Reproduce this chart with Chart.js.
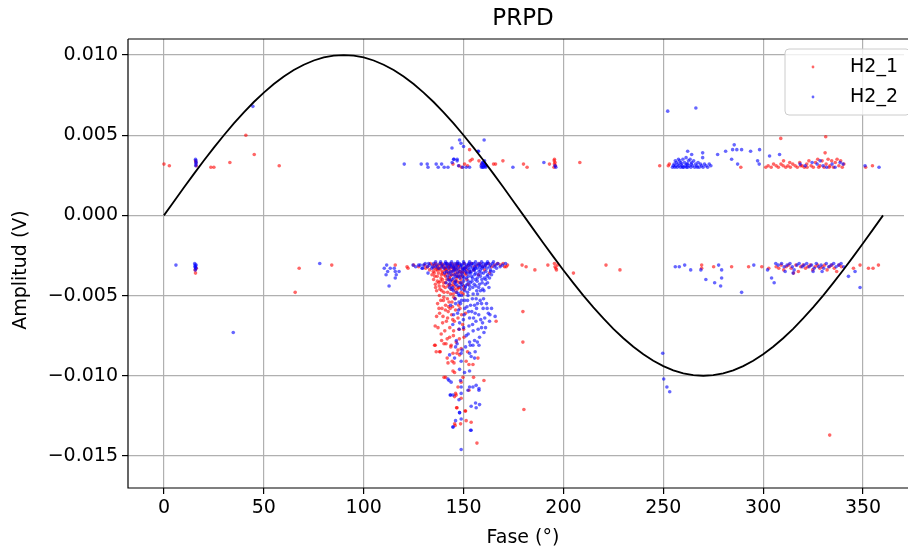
<!DOCTYPE html>
<html>
<head>
<meta charset="utf-8">
<script src="https://cdn.jsdelivr.net/npm/chart.js@4/dist/chart.umd.min.js"></script>
<style>
html,body{margin:0;padding:0;background:#fff;}
#c{display:block;}
</style>
</head>
<body>
<canvas id="c" width="908" height="548"></canvas>
<script>
// ---------- DATA ----------
const chartTitle = "PRPD";
const xAxisTitle = "Fase (°)";
const yAxisTitle = "Amplitud (V)";
const seriesNames = ["H2_1", "H2_2"];
const xTickValues = [0, 50, 100, 150, 200, 250, 300, 350];
const yTickValues = [-0.015, -0.010, -0.005, 0, 0.005, 0.010];

const sinePhase = [0,5,10,15,20,25,30,35,40,45,50,55,60,65,70,75,80,85,90,95,100,105,110,115,120,125,130,135,140,145,150,155,160,165,170,175,180,
185,190,195,200,205,210,215,220,225,230,235,240,245,250,255,260,265,270,275,280,285,290,295,300,305,310,315,320,325,330,335,340,345,350,355,360];
const sineAmp = [0,0.000872,0.001736,0.002588,0.003420,0.004226,0.005,0.005736,0.006428,0.007071,0.007660,0.008192,0.008660,0.009063,0.009397,0.009659,0.009848,0.009962,0.01,
0.009962,0.009848,0.009659,0.009397,0.009063,0.008660,0.008192,0.007660,0.007071,0.006428,0.005736,0.005,0.004226,0.003420,0.002588,0.001736,0.000872,0,
-0.000872,-0.001736,-0.002588,-0.003420,-0.004226,-0.005,-0.005736,-0.006428,-0.007071,-0.007660,-0.008192,-0.008660,-0.009063,-0.009397,-0.009659,-0.009848,-0.009962,-0.01,
-0.009962,-0.009848,-0.009659,-0.009397,-0.009063,-0.008660,-0.008192,-0.007660,-0.007071,-0.006428,-0.005736,-0.005,-0.004226,-0.003420,-0.002588,-0.001736,-0.000872,0];

// H2_1 : [phase (deg), amplitude (V)]
const h21Points = [
[0.0,0.0032],[2.7,0.0031],[15.8,0.0034],[16.0,0.0033],[16.2,0.0031],[23.5,0.0030],[25.0,0.0030],[33.0,0.0033],[41.0,0.0050],[45.2,0.0038],[57.7,0.0031],
[15.6,-0.0034],[15.8,-0.0036],[16.2,-0.0033],[67.7,-0.0033],[65.7,-0.0048],[84.0,-0.0031],[115.8,-0.0031],[121.7,-0.0032],[122.2,-0.0033],
[144.7,0.0032],[147.7,0.0031],[149.0,0.0030],[150.5,0.0032],[152.0,0.0031],[153.0,0.0041],[154.3,0.0035],[153.3,0.0034],[157.7,0.0034],[159.0,0.0032],[161.0,0.0031],[165.0,0.0032],[166.0,0.0032],[169.7,0.0034],[180.0,0.0032],[181.8,0.0030],[193.0,0.0032],[195.5,0.0035],[195.4,0.0034],[195.8,0.0033],[195.5,0.0032],[196.0,0.0031],[195.3,0.0030],[208.2,0.0033],
[171.3,-0.0032],[179.3,-0.0031],[181.3,-0.0032],[185.7,-0.0034],[192.2,-0.0031],[195.5,-0.0030],[195.8,-0.0032],[196.5,-0.0034],[196.2,-0.0033],[197.0,-0.0031],[205.0,-0.0036],[179.7,-0.0060],[179.7,-0.0079],[180.2,-0.0121],[221.3,-0.0031],[228.3,-0.0034],
[130.5,-0.0031],[132.0,-0.0032],[133.4,-0.0030],[134.6,-0.0031],[135.2,-0.0033],[136.1,-0.0030],[136.8,-0.0032],[137.5,-0.0031],[138.3,-0.0033],[138.9,-0.0030],[139.6,-0.0032],[140.2,-0.0031],[140.9,-0.0033],[141.5,-0.0030],[142.1,-0.0032],[142.8,-0.0031],[143.4,-0.0033],[144.0,-0.0030],[144.7,-0.0032],[145.3,-0.0031],[146.0,-0.0033],[146.6,-0.0030],[147.4,-0.0032],[148.1,-0.0031],[149.2,-0.0033],[150.3,-0.0030],[151.5,-0.0032],[152.6,-0.0031],[154.0,-0.0030],[155.3,-0.0032],[156.8,-0.0031],[158.2,-0.0030],[159.5,-0.0032],[161.0,-0.0031],[162.6,-0.0030],[164.1,-0.0032],[165.5,-0.0031],[167.0,-0.0030],[168.4,-0.0031],[169.8,-0.0030],
[131.0,-0.0033],[133.0,-0.0034],[135.5,-0.0031],[137.0,-0.0034],[139.0,-0.0031],[141.0,-0.0034],[143.0,-0.0032],[145.0,-0.0034],[147.0,-0.0031],[127.5,-0.0032],[125.0,-0.0031],[170.5,-0.0032],[172.0,-0.0031],
[134.8,-0.0035],[135.6,-0.0038],[136.2,-0.0034],[136.9,-0.0041],[137.4,-0.0036],[137.8,-0.0044],[138.3,-0.0034],[138.7,-0.0039],[139.1,-0.0047],[139.6,-0.0035],[140.0,-0.0042],[140.4,-0.0037],[140.8,-0.0045],[141.2,-0.0034],[141.6,-0.0040],[142.0,-0.0048],[142.4,-0.0036],[142.8,-0.0043],[143.2,-0.0038],[143.6,-0.0046],[144.0,-0.0035],[144.4,-0.0041],[144.8,-0.0049],[145.2,-0.0037],[145.6,-0.0044],[146.0,-0.0034],[146.4,-0.0039],[146.8,-0.0046],[147.3,-0.0036],[147.8,-0.0042],[148.3,-0.0035],[148.8,-0.0048],[149.3,-0.0038],[150.0,-0.0044],[150.8,-0.0036],[151.6,-0.0040],[153.0,-0.0035],[155.0,-0.0034],[157.5,-0.0037],[160.5,-0.0034],[163.0,-0.0036],
[134.2,-0.0037],[135.0,-0.0040],[135.9,-0.0043],[136.5,-0.0047],[137.1,-0.0033],[137.9,-0.0050],[138.5,-0.0041],[139.3,-0.0036],[139.8,-0.0044],[140.6,-0.0033],[141.0,-0.0038],[141.9,-0.0052],[142.6,-0.0034],[143.0,-0.0040],[143.9,-0.0044],[144.2,-0.0054],[145.0,-0.0033],[145.9,-0.0041],[146.2,-0.0048],[147.0,-0.0038],[147.6,-0.0034],[148.0,-0.0045],[148.6,-0.0040],[149.0,-0.0036],[149.8,-0.0049],[150.5,-0.0033],[151.2,-0.0037],[152.3,-0.0043],
[135.3,-0.0036],[136.0,-0.0045],[136.8,-0.0038],[137.6,-0.0042],[138.2,-0.0046],[138.9,-0.0037],[139.5,-0.0040],[140.2,-0.0048],[140.9,-0.0042],[141.5,-0.0036],[142.2,-0.0044],[142.9,-0.0039],[143.5,-0.0049],[144.1,-0.0037],[144.7,-0.0043],[145.4,-0.0046],[146.1,-0.0036],[146.7,-0.0041],[147.4,-0.0045],[148.1,-0.0038],[148.9,-0.0042],[149.6,-0.0035],[150.4,-0.0046],[151.4,-0.0034],[139.9,-0.0053],[142.5,-0.0057],[145.1,-0.0051],[137.7,-0.0058],
[137.0,-0.0055],[138.0,-0.0061],[139.5,-0.0067],[140.9,-0.0059],[142.0,-0.0064],[143.3,-0.0058],[144.6,-0.0065],[146.0,-0.0059],[147.5,-0.0056],[149.0,-0.0062],[136.5,-0.0063],[138.8,-0.0074],[141.2,-0.0080],[143.0,-0.0076],[145.0,-0.0072],[147.9,-0.0077],[150.0,-0.0071],[139.0,-0.0078],[137.2,-0.0070],
[135.8,-0.0069],[135.5,-0.0081],[138.0,-0.0085],[138.6,-0.0053],[139.2,-0.0058],[139.7,-0.0063],[140.1,-0.0051],[140.6,-0.0072],[141.0,-0.0056],[141.4,-0.0066],[141.8,-0.0077],[142.3,-0.0060],[142.7,-0.0054],[143.1,-0.0070],[143.6,-0.0082],[144.0,-0.0062],[144.5,-0.0057],[144.9,-0.0075],[145.4,-0.0066],[145.8,-0.0052],[146.3,-0.0079],[146.7,-0.0086],[147.2,-0.0064],[147.7,-0.0071],[148.2,-0.0058],[148.8,-0.0083],[149.5,-0.0068],[150.2,-0.0076],[151.0,-0.0061],[152.0,-0.0085],[166.3,-0.0066],
[135.8,-0.0081],[140.2,-0.0080],[136.3,-0.0085],[138.3,-0.0085],[143.8,-0.0081],[144.7,-0.0086],[147.2,-0.0084],[141.8,-0.0089],[144.3,-0.0091],[142.2,-0.0092],[145.2,-0.0092],[148.0,-0.0087],[151.3,-0.0091],[152.7,-0.0093],[154.7,-0.0093],[157.2,-0.0089],[144.7,-0.0097],[145.5,-0.0098],[141.0,-0.0101],[149.7,-0.0101],[148.8,-0.0104],[155.0,-0.0101],[160.2,-0.0103],[147.2,-0.0107],[146.0,-0.0111],[146.3,-0.0112],[145.5,-0.0113],[146.7,-0.0120],[151.0,-0.0122],[151.3,-0.0128],[148.5,-0.0130],[145.5,-0.0130],[156.7,-0.0142],[152.7,-0.0109],[153.8,-0.0129],[150.8,-0.0122],[145.8,-0.0131],[146.5,-0.0120],[148.8,-0.0114],[140.2,-0.0101],
[248.2,0.0031],[253.0,0.0032],[252.5,0.0031],[288.8,0.0030],[301.3,0.0030],[308.8,0.0048],[331.3,0.0049],[331.0,0.0039],[310.2,0.0034],[313.3,0.0033],[351.3,0.0030],[354.7,0.0031],
[302.5,0.0031],[304.0,0.0030],[305.2,0.0032],[306.5,0.0031],[307.6,0.0030],[308.9,0.0032],[310.0,0.0031],[311.3,0.0030],[312.4,0.0031],[313.6,0.0030],[314.8,0.0032],[316.0,0.0031],[317.1,0.0030],[318.3,0.0033],[319.5,0.0031],[320.6,0.0030],[321.8,0.0032],[322.9,0.0034],[324.0,0.0031],[325.1,0.0030],[326.2,0.0033],[327.3,0.0035],[328.4,0.0031],[329.5,0.0034],[330.5,0.0030],[331.5,0.0032],[332.5,0.0035],[333.4,0.0031],[334.3,0.0034],[335.2,0.0030],[336.1,0.0033],[337.0,0.0035],[337.9,0.0031],[338.8,0.0034],[339.6,0.0030],[340.4,0.0032],[322.0,0.0030],[318.8,0.0031],[327.8,0.0030],[333.0,0.0030],
[269.2,-0.0031],[269.2,-0.0033],[275.2,-0.0032],[284.2,-0.0032],[292.7,-0.0032],[299.3,-0.0032],[302.8,-0.0033],[345.2,-0.0033],[348.5,-0.0031],[352.7,-0.0033],[355.0,-0.0033],[357.7,-0.0031],[333.3,-0.0137],
[306.5,-0.0032],[307.8,-0.0033],[309.0,-0.0031],[310.3,-0.0034],[311.5,-0.0032],[312.8,-0.0031],[314.0,-0.0033],[315.2,-0.0036],[316.4,-0.0031],[317.6,-0.0035],[318.8,-0.0032],[320.0,-0.0031],[321.2,-0.0033],[322.4,-0.0032],[323.6,-0.0031],[324.8,-0.0034],[326.0,-0.0032],[327.2,-0.0031],[328.4,-0.0033],[329.6,-0.0032],[330.8,-0.0031],[332.0,-0.0034],[333.2,-0.0032],[334.4,-0.0031],[335.6,-0.0033],[336.8,-0.0035],[338.0,-0.0031],[339.2,-0.0032]
];

// H2_2 : [phase (deg), amplitude (V)]
const h22Points = [
[44.5,0.0068],[15.8,0.0035],[16.0,0.0034],[16.1,0.0033],[16.0,0.0032],[15.9,0.0031],
[6.0,-0.0031],[15.4,-0.0030],[15.6,-0.0031],[15.8,-0.0032],[16.0,-0.0033],[15.7,-0.0034],[16.1,-0.0031],[15.5,-0.0032],[78.0,-0.0030],[34.7,-0.0073],
[110.3,-0.0033],[111.5,-0.0031],[112.0,-0.0035],[111.2,-0.0037],[113.3,-0.0033],[115.3,-0.0033],[115.8,-0.0035],[117.7,-0.0035],[116.3,-0.0037],[115.8,-0.0039],[112.7,-0.0044],[124.7,-0.0031],[127.5,-0.0031],[129.2,-0.0033],[132.2,-0.0036],[126.0,-0.0032],
[120.3,0.0032],[128.8,0.0032],[131.8,0.0032],[132.2,0.0030],[136.3,0.0032],[137.3,0.0030],[139.0,0.0032],[140.3,0.0030],[142.2,0.0030],[144.3,0.0033],[145.0,0.0035],[146.8,0.0035],[144.2,0.0042],[148.0,0.0047],[148.7,0.0045],[150.0,0.0043],[160.3,0.0047],[157.5,0.0040],[157.2,0.0040],[145.2,0.0035],[146.8,0.0034],[151.3,0.0030],[153.0,0.0030],[149.5,0.0030],[147.5,0.0031],
[158.8,0.0031],[159.2,0.0032],[159.6,0.0030],[159.9,0.0033],[160.2,0.0031],[160.5,0.0034],[160.8,0.0032],[161.1,0.0030],[159.5,0.0033],[160.0,0.0030],[160.6,0.0031],[161.3,0.0031],[159.0,0.0030],[160.3,0.0032],
[174.7,0.0030],[190.2,0.0033],[195.8,0.0031],[196.2,0.0030],
[128.3,-0.0031],[129.5,-0.0033],[130.8,-0.0030],[131.9,-0.0032],[133.0,-0.0031],[134.1,-0.0033],[135.0,-0.0030],[135.9,-0.0032],[136.7,-0.0031],[137.5,-0.0033],[138.2,-0.0030],[138.9,-0.0032],[139.5,-0.0031],[140.1,-0.0033],[140.7,-0.0030],[141.3,-0.0032],[141.9,-0.0031],[142.5,-0.0033],[143.1,-0.0030],[143.7,-0.0032],[144.3,-0.0031],[144.9,-0.0033],[145.5,-0.0030],[146.1,-0.0032],[146.7,-0.0031],[147.3,-0.0033],[147.9,-0.0030],[148.5,-0.0032],[149.1,-0.0031],[149.7,-0.0033],[150.3,-0.0030],[150.9,-0.0032],[151.5,-0.0031],[152.1,-0.0033],[152.7,-0.0030],[153.3,-0.0032],[153.9,-0.0031],[154.5,-0.0033],[155.1,-0.0030],[155.7,-0.0032],[156.3,-0.0031],[156.9,-0.0033],[157.5,-0.0030],[158.1,-0.0032],[158.7,-0.0031],[159.3,-0.0033],[159.9,-0.0030],[160.5,-0.0032],[161.1,-0.0031],[161.7,-0.0033],[162.3,-0.0030],[162.9,-0.0032],[163.6,-0.0031],[164.4,-0.0030],[165.3,-0.0032],[166.2,-0.0031],[167.2,-0.0030],[168.3,-0.0032],
[141.6,-0.0030],[143.4,-0.0031],[145.2,-0.0032],[147.0,-0.0030],[148.8,-0.0031],[150.6,-0.0033],[152.4,-0.0031],[154.2,-0.0030],[156.0,-0.0033],[157.8,-0.0031],[159.6,-0.0032],[161.4,-0.0030],[146.4,-0.0034],[149.4,-0.0034],[152.9,-0.0034],[155.4,-0.0034],[158.4,-0.0034],
[130.0,-0.0031],[132.5,-0.0030],[134.5,-0.0032],[136.0,-0.0029],[138.5,-0.0029],[141.0,-0.0029],[144.0,-0.0029],[147.0,-0.0029],[150.0,-0.0029],[153.0,-0.0029],[156.0,-0.0029],[159.0,-0.0029],[162.0,-0.0029],[165.0,-0.0029],[169.5,-0.0031],[171.0,-0.0030],[163.5,-0.0034],[166.5,-0.0033],
[140.5,-0.0036],[141.3,-0.0042],[142.0,-0.0038],[142.9,-0.0045],[143.5,-0.0035],[144.2,-0.0040],[144.9,-0.0047],[145.6,-0.0037],[146.2,-0.0043],[146.9,-0.0036],[147.5,-0.0049],[148.1,-0.0039],[148.7,-0.0044],[149.4,-0.0036],[150.0,-0.0041],[150.6,-0.0047],[151.2,-0.0035],[151.8,-0.0043],[152.4,-0.0038],[153.0,-0.0046],[153.6,-0.0036],[154.2,-0.0041],[154.8,-0.0049],[155.5,-0.0037],[156.2,-0.0044],[156.9,-0.0039],[157.7,-0.0035],[158.4,-0.0047],[159.2,-0.0040],[160.0,-0.0036],[160.9,-0.0043],[161.8,-0.0038],[162.7,-0.0045],[163.5,-0.0035],[149.0,-0.0050],[152.0,-0.0048],[157.0,-0.0049],[145.0,-0.0039],
[141.5,-0.0035],[142.3,-0.0040],[143.0,-0.0043],[143.8,-0.0037],[144.5,-0.0045],[145.3,-0.0034],[146.0,-0.0041],[146.6,-0.0048],[147.3,-0.0038],[148.0,-0.0035],[148.4,-0.0042],[149.0,-0.0046],[149.7,-0.0038],[150.3,-0.0034],[151.0,-0.0044],[151.5,-0.0039],[152.2,-0.0050],[152.8,-0.0036],[153.4,-0.0042],[154.0,-0.0038],[154.6,-0.0045],[155.2,-0.0034],[155.9,-0.0040],[156.6,-0.0047],[157.3,-0.0037],[158.0,-0.0043],[158.8,-0.0036],[159.6,-0.0046],[160.4,-0.0039],[161.2,-0.0035],[162.0,-0.0042],[163.0,-0.0039],[164.0,-0.0037],[165.0,-0.0035],
[142.7,-0.0036],[143.3,-0.0041],[144.0,-0.0046],[144.8,-0.0035],[145.6,-0.0042],[146.3,-0.0038],[147.1,-0.0044],[147.8,-0.0050],[148.6,-0.0037],[149.3,-0.0043],[150.1,-0.0039],[150.8,-0.0045],[151.6,-0.0036],[152.3,-0.0041],[153.1,-0.0044],[153.8,-0.0035],[154.5,-0.0039],[155.3,-0.0043],[156.0,-0.0036],[156.8,-0.0041],[157.6,-0.0045],[158.4,-0.0038],[159.3,-0.0042],[160.2,-0.0047],[161.1,-0.0040],[162.2,-0.0037],[150.5,-0.0053],[153.5,-0.0056],[156.3,-0.0052],[159.0,-0.0055],[147.7,-0.0054],[155.0,-0.0064],
[146.0,-0.0055],[147.5,-0.0059],[149.0,-0.0053],[150.3,-0.0062],[151.7,-0.0057],[153.0,-0.0064],[154.4,-0.0052],[155.8,-0.0061],[157.0,-0.0055],[158.6,-0.0065],[160.0,-0.0052],[161.8,-0.0058],[163.2,-0.0062],[148.0,-0.0067],[150.0,-0.0070],[152.3,-0.0074],[154.5,-0.0068],[157.3,-0.0071],[159.5,-0.0067],[161.0,-0.0070],[145.0,-0.0062],[152.5,-0.0060],[156.5,-0.0058],
[165.8,-0.0063],[163.0,-0.0066],[160.2,-0.0073],[143.5,-0.0056],[144.6,-0.0068],[145.7,-0.0052],[146.4,-0.0078],[147.0,-0.0061],[147.8,-0.0071],[148.5,-0.0055],[149.2,-0.0084],[149.9,-0.0065],[150.6,-0.0058],[151.3,-0.0075],[152.0,-0.0053],[152.7,-0.0069],[153.4,-0.0081],[154.1,-0.0060],[154.8,-0.0072],[155.5,-0.0056],[156.2,-0.0066],[156.9,-0.0079],[157.6,-0.0062],[158.3,-0.0053],[159.0,-0.0070],[159.8,-0.0058],[160.6,-0.0064],[161.5,-0.0055],[162.4,-0.0061],[164.0,-0.0058],[153.0,-0.0086],[151.0,-0.0082],[155.8,-0.0085],[158.0,-0.0076],
[153.0,-0.0079],[155.5,-0.0078],[157.7,-0.0081],[154.7,-0.0081],[146.8,-0.0080],[146.0,-0.0082],[148.8,-0.0086],[153.8,-0.0088],[155.5,-0.0089],[143.0,-0.0087],[145.5,-0.0089],[148.8,-0.0091],[153.0,-0.0097],[150.5,-0.0098],[148.0,-0.0096],[143.8,-0.0104],[142.7,-0.0103],[148.5,-0.0103],[153.0,-0.0107],[152.2,-0.0109],[154.7,-0.0107],[156.3,-0.0106],[157.7,-0.0109],[147.7,-0.0115],[148.8,-0.0111],[144.7,-0.0112],[143.3,-0.0112],[153.8,-0.0119],[156.0,-0.0117],[156.3,-0.0120],[148.0,-0.0123],[146.0,-0.0128],[144.7,-0.0132],[148.8,-0.0127],[153.8,-0.0134],[148.8,-0.0146],[157.7,-0.0108],[158.0,-0.0118],[153.5,-0.0134],[144.7,-0.0132],[143.5,-0.0112],[148.8,-0.0107],[142.2,-0.0102],[148.0,-0.0123],
[252.2,0.0065],[266.3,0.0067],
[254.6,0.0030],[255.0,0.0031],[255.4,0.0032],[255.8,0.0030],[256.2,0.0031],[256.6,0.0033],[257.0,0.0030],[257.4,0.0032],[257.8,0.0031],[258.2,0.0034],[258.6,0.0030],[259.0,0.0032],[259.4,0.0031],[259.8,0.0035],[260.2,0.0030],[260.6,0.0033],[261.0,0.0031],[261.4,0.0036],[261.8,0.0032],[262.2,0.0030],[262.6,0.0034],[263.0,0.0031],[263.4,0.0035],[263.8,0.0030],[264.2,0.0033],[264.7,0.0031],[265.2,0.0034],[265.7,0.0030],[266.2,0.0032],[266.8,0.0031],[267.4,0.0033],[268.0,0.0030],[268.6,0.0032],[269.2,0.0031],[269.9,0.0030],[270.6,0.0032],[271.4,0.0031],[272.2,0.0030],[273.0,0.0032],[273.8,0.0031],[256.0,0.0034],[257.6,0.0035],[259.7,0.0030],[262.0,0.0032],[264.0,0.0032],[267.0,0.0030],[258.8,0.0033],[261.6,0.0030],
[262.2,0.0040],[264.2,0.0038],[269.7,0.0039],[269.7,0.0036],[277.2,0.0038],[281.2,0.0040],[285.5,0.0044],[284.7,0.0041],[286.8,0.0041],[289.2,0.0041],[284.2,0.0035],[287.2,0.0032],[293.7,0.0040],[298.2,0.0041],[297.2,0.0034],[298.0,0.0032],[303.2,0.0037],[308.2,0.0038],[351.0,0.0031],[358.0,0.0030],
[318.5,0.0032],[321.0,0.0031],[324.5,0.0033],[327.0,0.0032],[328.5,0.0034],[330.0,0.0031],[334.5,0.0032],[336.0,0.0030],[338.5,0.0033],[340.0,0.0032],[331.8,0.0030],
[256.0,-0.0032],[258.0,-0.0032],[260.7,-0.0031],[263.7,-0.0034],[268.8,-0.0034],[277.7,-0.0031],[279.2,-0.0034],[271.3,-0.0040],[275.7,-0.0042],[278.7,-0.0044],[279.2,-0.0039],[289.2,-0.0048],[295.3,-0.0031],[302.2,-0.0034],[304.2,-0.0039],[305.5,-0.0042],[342.7,-0.0038],[346.0,-0.0035],[348.5,-0.0045],[249.7,-0.0086],[250.2,-0.0102],[251.8,-0.0107],[253.2,-0.0110],
[306.3,-0.0030],[307.5,-0.0031],[309.2,-0.0030],[310.5,-0.0032],[312.0,-0.0031],[313.4,-0.0030],[314.6,-0.0032],[315.5,-0.0034],[316.9,-0.0031],[318.0,-0.0030],[319.5,-0.0032],[320.5,-0.0031],[321.8,-0.0030],[323.0,-0.0032],[324.2,-0.0031],[325.5,-0.0033],[326.6,-0.0030],[327.8,-0.0032],[329.0,-0.0031],[330.3,-0.0033],[331.6,-0.0030],[332.8,-0.0032],[334.0,-0.0031],[335.3,-0.0030],[336.5,-0.0032],[337.8,-0.0031],[339.0,-0.0030],[340.3,-0.0032],[311.0,-0.0035],[315.0,-0.0036],[325.0,-0.0035],[329.5,-0.0035]
];

// ---------- STYLE ----------
const FONT = "'DejaVu Sans', sans-serif";
const redFill = "rgba(255,0,0,0.6)";
const blueFill = "rgba(0,0,255,0.6)";

const toXY = arr => arr.map(p => ({x: p[0], y: p[1]}));
const sineData = sinePhase.map((p, i) => ({x: p, y: sineAmp[i]}));

const fmtY = v => {
  const s = Math.abs(v).toFixed(3);
  return (v < -1e-12 ? "\u2212" : "") + s;
};

const decorPlugin = {
  id: "decor",
  afterDraw(chart) {
    const ctx = chart.ctx;
    const a = chart.chartArea;
    ctx.save();
    ctx.strokeStyle = "#000";
    ctx.lineWidth = 1.2;
    ctx.beginPath();
    ctx.moveTo(a.left, a.top); ctx.lineTo(chart.width, a.top);
    ctx.moveTo(a.left, a.top); ctx.lineTo(a.left, a.bottom);
    ctx.lineTo(chart.width, a.bottom);
    ctx.stroke();
    ctx.fillStyle = "#000";
    ctx.textAlign = "center";
    ctx.textBaseline = "middle";
    ctx.font = "23px " + FONT;
    ctx.fillText(chartTitle, 523, 19);
    ctx.font = "19px " + FONT;
    ctx.fillText(xAxisTitle, 523, 538);
    ctx.translate(21, 270);
    ctx.rotate(-Math.PI / 2);
    ctx.fillText(yAxisTitle, 0, 0);
    ctx.restore();

    ctx.save();
    const lx = 785, ly = 49, lw = 125, lh = 66, r = 4;
    ctx.beginPath();
    ctx.moveTo(lx + r, ly);
    ctx.lineTo(lx + lw - r, ly);
    ctx.quadraticCurveTo(lx + lw, ly, lx + lw, ly + r);
    ctx.lineTo(lx + lw, ly + lh - r);
    ctx.quadraticCurveTo(lx + lw, ly + lh, lx + lw - r, ly + lh);
    ctx.lineTo(lx + r, ly + lh);
    ctx.quadraticCurveTo(lx, ly + lh, lx, ly + lh - r);
    ctx.lineTo(lx, ly + r);
    ctx.quadraticCurveTo(lx, ly, lx + r, ly);
    ctx.closePath();
    ctx.fillStyle = "rgba(255,255,255,0.8)";
    ctx.fill();
    ctx.strokeStyle = "#cccccc";
    ctx.lineWidth = 1;
    ctx.stroke();
    const cols = [redFill, blueFill];
    const ys = [67, 97];
    ctx.font = "19px " + FONT;
    ctx.textAlign = "left";
    ctx.textBaseline = "middle";
    for (let i = 0; i < 2; i++) {
      ctx.fillStyle = cols[i];
      ctx.beginPath();
      ctx.arc(813, ys[i], 1.4, 0, Math.PI * 2);
      ctx.fill();
      ctx.fillStyle = "#000";
      ctx.fillText(seriesNames[i], 850, ys[i]);
    }
    ctx.restore();
  }
};

new Chart(document.getElementById("c"), {
  type: "scatter",
  data: {
    datasets: [
      {
        label: "sine",
        type: "line",
        data: sineData,
        borderColor: "#000",
        borderWidth: 1.8,
        pointRadius: 0,
        fill: false,
        tension: 0,
        order: 1
      },
      {
        label: seriesNames[0],
        data: toXY(h21Points),
        backgroundColor: redFill,
        borderWidth: 0,
        pointRadius: 1.8,
        order: 3
      },
      {
        label: seriesNames[1],
        data: toXY(h22Points),
        backgroundColor: blueFill,
        borderWidth: 0,
        pointRadius: 1.8,
        order: 2
      }
    ]
  },
  options: {
    responsive: false,
    animation: false,
    devicePixelRatio: 1,
    layout: { padding: { top: 39, left: 0, right: 0, bottom: 0 } },
    plugins: {
      legend: { display: false },
      title: { display: false },
      tooltip: { enabled: false }
    },
    scales: {
      x: {
        type: "linear",
        min: -18,
        max: 370.5,
        afterBuildTicks: s => { s.ticks = xTickValues.map(v => ({value: v})); },
        afterFit: s => { s.height = 60; },
        grid: { color: "#b0b0b0", lineWidth: 1.2, tickLength: 6, tickColor: "#000", tickWidth: 1.2 },
        border: { display: false },
        ticks: { color: "#000", font: { family: FONT, size: 19 }, padding: 3, maxRotation: 0,
                 callback: v => String(v) }
      },
      y: {
        type: "linear",
        min: -0.017,
        max: 0.011,
        afterBuildTicks: s => { s.ticks = yTickValues.map(v => ({value: v})); },
        afterFit: s => { s.width = 128; },
        grid: { color: "#b0b0b0", lineWidth: 1.2, tickLength: 6, tickColor: "#000", tickWidth: 1.2 },
        border: { display: false },
        ticks: { color: "#000", font: { family: FONT, size: 19 }, padding: 4, callback: v => fmtY(v) }
      }
    }
  },
  plugins: [decorPlugin]
});
</script>
</body>
</html>
